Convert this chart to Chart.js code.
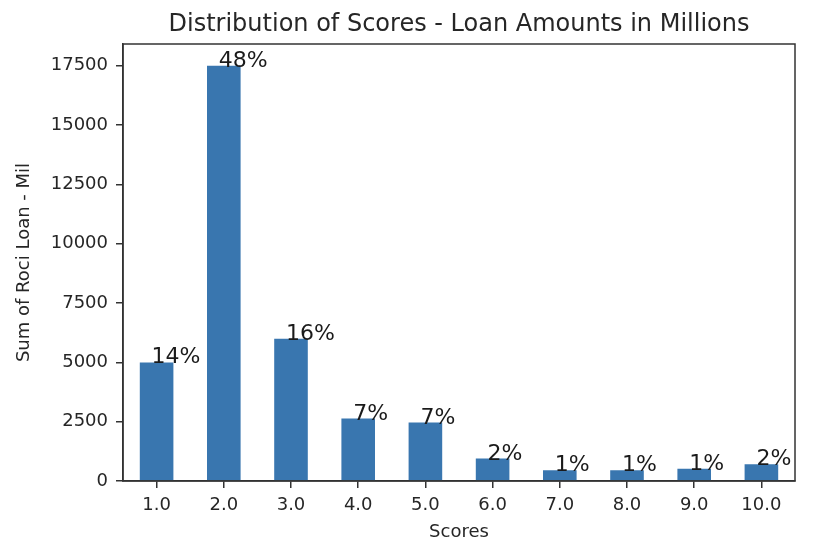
<!DOCTYPE html>
<html>
<head>
<meta charset="utf-8">
<script src="https://cdn.jsdelivr.net/npm/chart.js@4.4.0/dist/chart.umd.min.js"></script>
<style>
  html, body { margin: 0; padding: 0; background: #fff; }
  #wrap { width: 828px; height: 556px; }
</style>
</head>
<body>
<div id="wrap"><canvas id="chart" width="828" height="556"></canvas></div>
<script>
// data
const scores = ["1.0", "2.0", "3.0", "4.0", "5.0", "6.0", "7.0", "8.0", "9.0", "10.0"]
const loanSums = [5000, 17500, 6000, 2630, 2465, 945, 450, 450, 520, 705]
const pctLabels = ["14%", "48%", "16%", "7%", "7%", "2%", "1%", "1%", "1%", "2%"]
const yTicks = [0, 2500, 5000, 7500, 10000, 12500, 15000, 17500]
const chartTitle = "Distribution of Scores - Loan Amounts in Millions"

const FONT = "'DejaVu Sans', sans-serif"
const INK = "#262626"
const AXIS = "#333333"

// matplotlib-like frame around the plot area, title centred over the axes
const framePlugin = {
  id: "frame",
  afterDatasetsDraw(chart) {
    const { ctx, chartArea: a } = chart
    ctx.save()
    ctx.strokeStyle = AXIS
    ctx.lineWidth = 1.5
    ctx.strokeRect(a.left, a.top, a.right - a.left, a.bottom - a.top)
    ctx.font = "24px " + FONT
    ctx.fillStyle = INK
    ctx.textAlign = "center"
    ctx.textBaseline = "middle"
    ctx.fillText(chartTitle, (a.left + a.right) / 2, 25)
    ctx.restore()
  }
}

// percentage text above each bar (left aligned, baseline on bar top)
const pctPlugin = {
  id: "pct",
  afterDatasetsDraw(chart) {
    const { ctx } = chart
    const meta = chart.getDatasetMeta(0)
    ctx.save()
    ctx.font = "22px " + FONT
    ctx.fillStyle = "#1a1a1a"
    ctx.textAlign = "left"
    ctx.textBaseline = "alphabetic"
    meta.data.forEach((bar, i) => {
      ctx.fillText(pctLabels[i], bar.x - 5, bar.y + 1)
    })
    ctx.restore()
  }
}

new Chart(document.getElementById("chart"), {
  type: "bar",
  data: {
    labels: scores,
    datasets: [{
      data: loanSums,
      backgroundColor: "#3976af",
      borderWidth: 0,
      barPercentage: 0.5,
      categoryPercentage: 1.0
    }]
  },
  options: {
    responsive: false,
    animation: false,
    devicePixelRatio: 1,
    layout: { padding: { left: 0, right: 33, top: 44, bottom: 0 } },
    plugins: {
      legend: { display: false },
      tooltip: { enabled: false },
      title: { display: false }
    },
    scales: {
      x: {
        offset: true,
        grid: { drawOnChartArea: false, drawTicks: true, tickLength: 7, color: AXIS, lineWidth: 1.5, offset: false },
        border: { display: true, color: AXIS, width: 1.5 },
        ticks: { color: INK, font: { family: FONT, size: 18 }, padding: 7, maxRotation: 0 },
        title: {
          display: true,
          text: "Scores",
          color: INK,
          font: { family: FONT, size: 18 },
          padding: { top: 0, bottom: 13 }
        },
        afterFit(scale) { scale.height = 75 }
      },
      y: {
        min: 0,
        max: 18420,
        afterBuildTicks(scale) { scale.ticks = yTicks.map(v => ({ value: v })) },
        grid: { drawOnChartArea: false, drawTicks: true, tickLength: 7, color: AXIS, lineWidth: 1.5 },
        border: { display: true, color: AXIS, width: 1.5 },
        ticks: { color: INK, font: { family: FONT, size: 18 }, padding: 8, callback: v => String(v) },
        title: {
          display: true,
          text: "Sum of Roci Loan - Mil",
          color: INK,
          font: { family: FONT, size: 18 },
          padding: { top: 14, bottom: 0 }
        },
        afterFit(scale) { scale.width = 123 }
      }
    }
  },
  plugins: [framePlugin, pctPlugin]
})
</script>
</body>
</html>
